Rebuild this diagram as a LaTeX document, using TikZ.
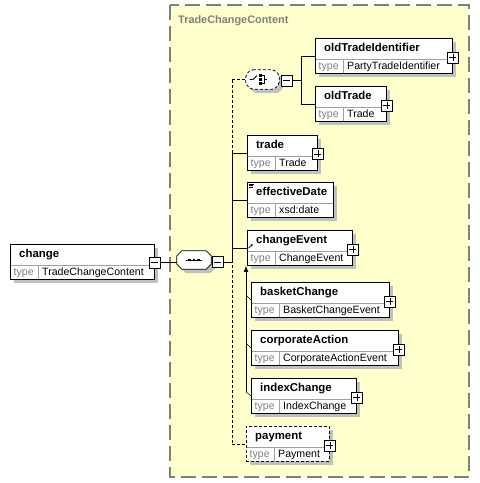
\documentclass[tikz,border=0pt]{standalone}
\usepackage{fontspec}
\setmainfont{Liberation Sans}
\usetikzlibrary{shadows,arrows.meta}

\definecolor{groupbg}{HTML}{FFFFCC}
\definecolor{groupline}{HTML}{808080}
\definecolor{shade}{HTML}{C0C0C0}
\definecolor{typegray}{HTML}{808080}
\definecolor{cellgray}{HTML}{A0A0A0}

\tikzset{
	elembox/.style={draw,fill=white,line width=0.9pt,minimum height=35pt,inner sep=0pt,anchor=north west,
		general shadow={fill=shade,shadow xshift=4pt,shadow yshift=-4pt}},
	optional/.style={dash pattern=on 3pt off 2pt},
	elemname/.style={anchor=base west,inner sep=0pt,font=\fontsize{11.4}{13}\selectfont\bfseries},
	elemtype/.style={anchor=base west,inner sep=0pt,font=\fontsize{10.6}{12}\selectfont},
	cellline/.style={cellgray,line width=0.6pt,shorten <=0.5pt,shorten >=0.5pt},
	markbox/.style={draw,fill=white,line width=0.9pt,minimum size=11pt,inner sep=0pt},
	plusbox/.style={markbox,path picture={
		\draw[line width=0.8pt] ([xshift=2pt]path picture bounding box.west) -- ([xshift=-2pt]path picture bounding box.east)
			([yshift=-2pt]path picture bounding box.north) -- ([yshift=2pt]path picture bounding box.south);}},
	minusbox/.style={markbox,path picture={
		\draw[line width=0.8pt] ([xshift=2pt]path picture bounding box.west) -- ([xshift=-2pt]path picture bounding box.east);}},
	comp/.style={minimum width=34pt,minimum height=18pt,inner sep=0pt},
	compline/.style={draw,fill=white,line width=0.8pt,
		general shadow={fill=shade,shadow xshift=4pt,shadow yshift=-4pt}},
	link/.style={line width=0.8pt},
	optlink/.style={line width=0.8pt,dash pattern=on 3pt off 2pt}
}

% one schema element: box, name row, type row
\newcommand{\xsdelem}[7][]{%
	\node[elembox,#1,minimum width=#5pt] (#2) at (#3,#4) {};
	\draw[cellline] ([yshift=-21pt]#2.north west) -- ([yshift=-21pt]#2.north east);
	\draw[cellline] ([shift={(28pt,-21pt)}]#2.north west) -- ([xshift=28pt]#2.south west);
	\node[elemname] at ([shift={(9pt,-13.5pt)}]#2.north west) {#6};
	\node[elemtype,typegray] at ([shift={(3.5pt,-31pt)}]#2.north west) {type};
	\node[elemtype] at ([shift={(32pt,-31pt)}]#2.north west) {#7};
}

% octagon round a compositor node
\newcommand{\octa}[2][]{%
	\path[compline,#1] ([xshift=5pt]#2.north west) -- ([xshift=-5pt]#2.north east) -- ([yshift=-5pt]#2.north east)
		-- ([yshift=5pt]#2.south east) -- ([xshift=-5pt]#2.south east) -- ([xshift=5pt]#2.south west)
		-- ([yshift=5pt]#2.south west) -- ([yshift=-5pt]#2.north west) -- cycle;
}

\begin{document}
\begin{tikzpicture}[x=1pt,y=-1pt]
	\useasboundingbox (0,0) rectangle (480,483);
	% complex type group
	\draw[groupline,fill=groupbg,line width=1.5pt,dash pattern=on 15pt off 6pt] (170,5) rectangle (469,477);
	\node[anchor=base west,inner sep=0pt,groupline,font=\fontsize{10.9}{13}\selectfont\bfseries](title) at (178,23.5) {TradeChangeContent};

	\coordinate (bus) at (232,0);
	\coordinate (cbus) at (301,0);
	\coordinate (sbus) at (246,0);

	% connectors
	\draw[optlink] (bus |- 0,80) -- (bus |- 0,444);
	\draw[link] (bus |- 0,152.5) -- (bus |- 0,262);

	\xsdelem{chg}{10}{244}{144}{change}{TradeChangeContent}
	\xsdelem{oti}{315}{38}{137}{oldTradeIdentifier}{PartyTradeIdentifier}
	\xsdelem{otr}{315}{86}{71}{oldTrade}{Trade}
	\xsdelem{trd}{247}{135}{70}{trade}{Trade}
	\xsdelem{eff}{247}{182}{86}{effectiveDate}{xsd:date}
	\xsdelem{cev}{247}{230}{105}{changeEvent}{ChangeEvent}
	\xsdelem{bsk}{251}{282}{138}{basketChange}{BasketChangeEvent}
	\xsdelem{cor}{251}{330}{147}{corporateAction}{CorporateActionEvent}
	\xsdelem{idx}{251}{378}{105}{indexChange}{IndexChange}
	\xsdelem[optional]{pay}{246}{426}{83}{payment}{Payment}

	% compositors
	\node[comp](seq) at (194,260) {};
	\octa{seq}
	\draw[link] ([xshift=-8pt]seq.center) -- ([xshift=8pt]seq.center);
	\foreach \dx in {-4.5,0,4.5}
		\fill ([xshift=\dx pt]seq.center) ++(-1.3pt,-1.3pt) rectangle ++(2.6pt,2.6pt);
	\node[minusbox](seqm) at (217.5,262) {};

	\node[comp,minimum width=33pt,minimum height=19pt](cho) at (262.5,79.5) {};
	\octa[optional,rounded corners=2pt]{cho}
	\draw[link] ([xshift=-13pt]cho.center) -- ([xshift=-9.5pt]cho.center) -- ([shift={(-5.5pt,4pt)}]cho.center);
	\foreach \dy in {-4,0,4}
		\fill ([shift={(-2pt,\dy pt)}]cho.center) ++(-1.3pt,-1.3pt) rectangle ++(2.6pt,2.6pt);
	\draw[line width=0.7pt] ([shift={(-1pt,4pt)}]cho.center) -| ([shift={(1.5pt,-4pt)}]cho.center) -- ([shift={(-1pt,-4pt)}]cho.center)
		([shift={(1.5pt,0pt)}]cho.center) -- ([shift={(4pt,0pt)}]cho.center);
	\node[minusbox](chom) at (286.5,80.5) {};

	\node[minusbox](chgm) at ([yshift=-0.5pt]chg.east) {};
	\draw[link] (chgm.east) -- (chgm.east -| seq.west);
	\draw[link] (seq.east |- seqm.west) -- (seqm.west);
	\draw[link] (seqm.east) -- (seqm.east -| bus);
	\draw[optlink] (bus |- cho.west) -- (cho.west);
	\draw[link] (bus |- trd.west) -- (trd.west);
	\draw[link] (bus |- eff.west) -- (eff.west);
	\draw[link] (bus |- cev.west) -- (cev.west);
	\draw[optlink] (bus |- pay.west) -- (pay.west);
	\draw[link] (chom.east) -- (chom.east -| cbus);
	\draw[link] (cbus |- oti.west) -- (cbus |- otr.west);
	\draw[link] (cbus |- oti.west) -- (oti.west);
	\draw[link] (cbus |- otr.west) -- (otr.west);

	% substitution group of changeEvent
	\draw[link,-{Latex[length=6pt,width=5pt]}] ([yshift=4pt]sbus |- idx.west) -- (sbus |- cev.south);
	\draw[line width=0.5pt] ([yshift=5pt]sbus |- bsk.west) -- (bsk.west);
	\draw[line width=0.5pt] ([yshift=5pt]sbus |- cor.west) -- (cor.west);
	\draw[line width=0.5pt] ([yshift=4pt]sbus |- idx.west) -- (idx.west);

	% expand marks
	\node[plusbox](otip) at ([yshift=-1.5pt]oti.east) {};
	\node[plusbox](otrp) at ([yshift=-1.5pt]otr.east) {};
	\node[plusbox](trdp) at ([yshift=-1pt]trd.east) {};
	\node[plusbox](cevp) at ([yshift=-1.5pt]cev.east) {};
	\node[plusbox](bskp) at ([yshift=-1.5pt]bsk.east) {};
	\node[plusbox](corp) at ([yshift=-1.5pt]cor.east) {};
	\node[plusbox](idxp) at ([yshift=-1.5pt]idx.east) {};
	\node[plusbox](payp) at ([yshift=-1.5pt]pay.east) {};

	% small icons
	\draw[line width=0.6pt] ([shift={(1.5pt,-2pt)}]eff.north west) -- ++(5pt,0pt)
		([shift={(1.5pt,-3.5pt)}]eff.north west) -- ++(4pt,0pt)
		([shift={(1.5pt,-5pt)}]eff.north west) -- ++(4pt,0pt);
	\draw[line width=0.7pt,-{Latex[length=2.5pt,width=2.5pt]}] ([shift={(1.5pt,-18pt)}]cev.north west) -- ++(4.5pt,4pt);
\end{tikzpicture}
\end{document}
